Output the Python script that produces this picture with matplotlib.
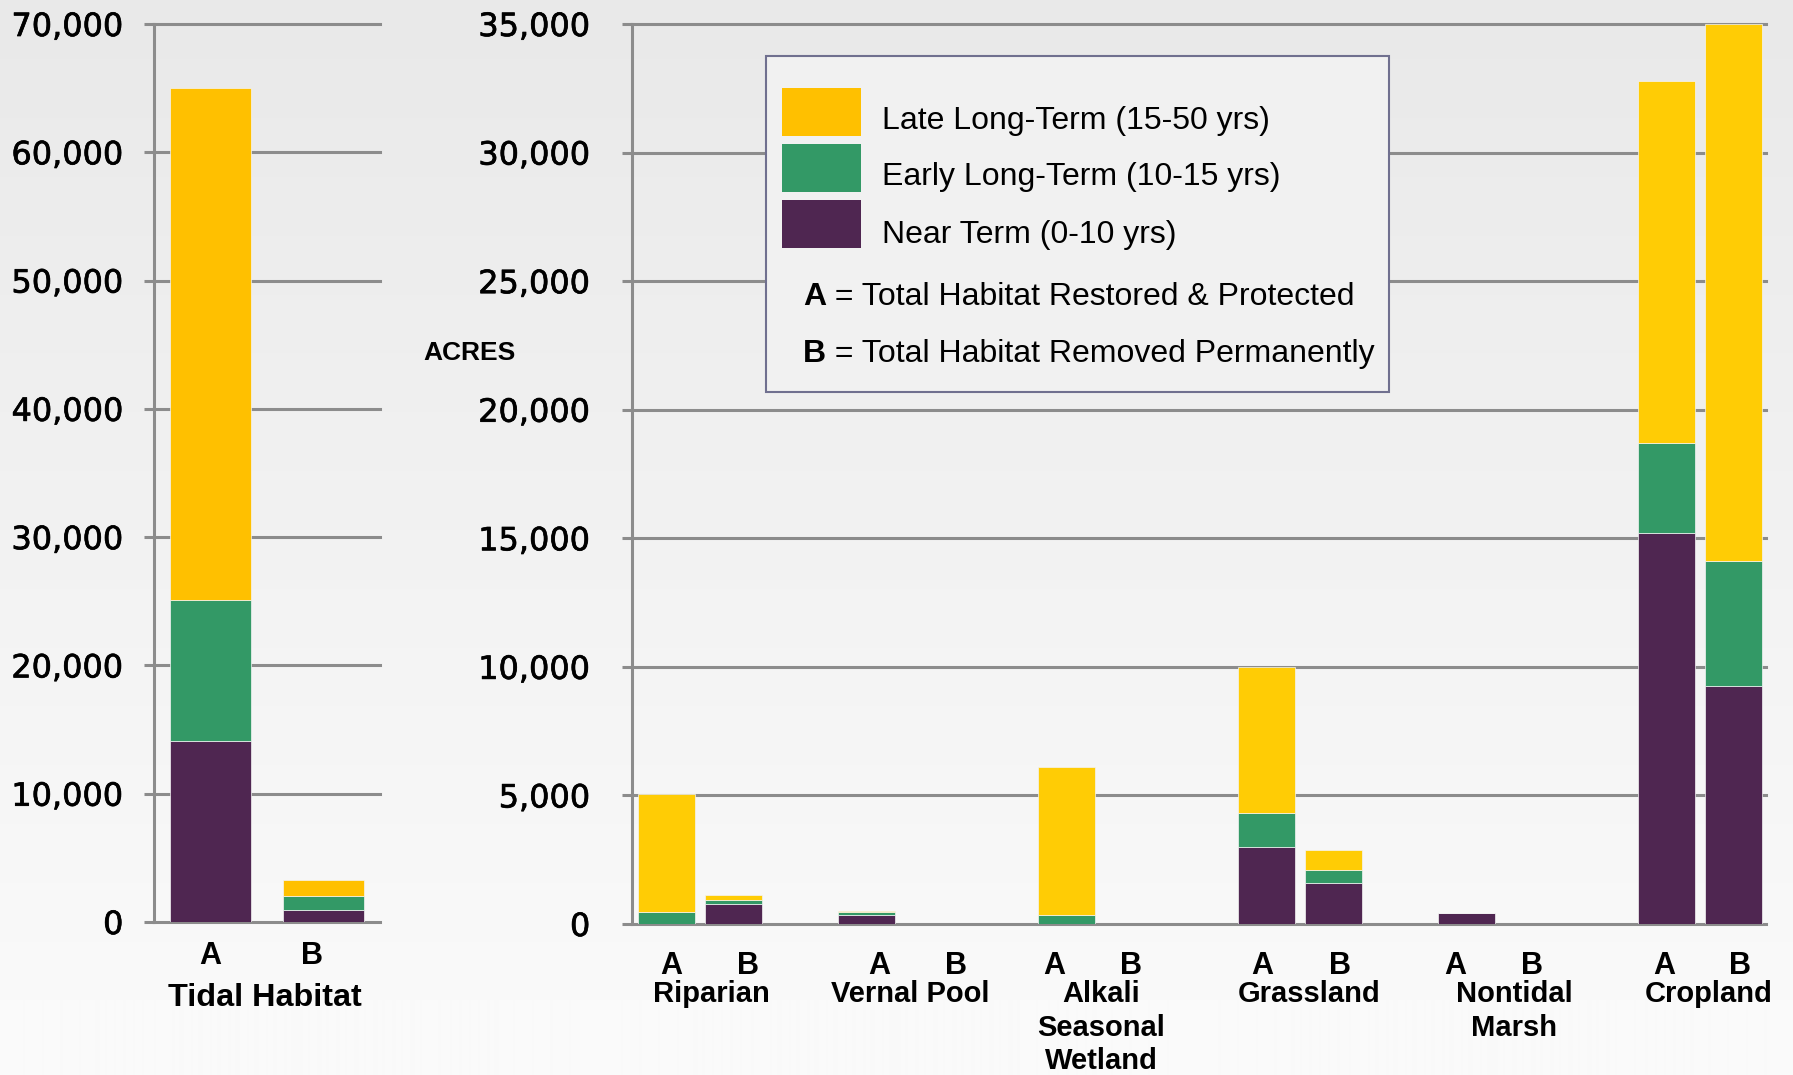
import numpy as np
import matplotlib.pyplot as plt
from matplotlib.patches import Rectangle
import matplotlib.transforms as mtransforms
import matplotlib.patheffects as pe

# ---- data (acres) ----
tidal_labels = ["A", "B"]
tidal_near = [14100, 900]
tidal_early = [11000, 1100]
tidal_late = [39900, 1300]

categories = ["Riparian", "Vernal Pool", "Alkali\nSeasonal\nWetland",
              "Grassland", "Nontidal\nMarsh", "Cropland"]
near_a = [0, 340, 0, 3000, 430, 15200]
early_a = [480, 130, 350, 1300, 0, 3500]
late_a = [4570, 50, 5750, 5700, 0, 14100]
near_b = [780, 0, 0, 1600, 0, 9250]
early_b = [150, 0, 0, 500, 0, 4870]
late_b = [200, 0, 0, 760, 0, 20880]

legend_labels = ["Late Long-Term (15-50 yrs)", "Early Long-Term (10-15 yrs)",
                 "Near Term (0-10 yrs)"]

YELLOW_L = "#FFC000"
YELLOW_R = "#FFCC05"
GREEN = "#339966"
PURPLE = "#4F2651"
GRID = "#8c8c8c"

W, H = 1793, 1075
fig = plt.figure(figsize=(W / 100, H / 100), dpi=100)


def fx(px):
    return px / W


def fy(py):
    return 1 - py / H


# background gradient
bg = fig.add_axes([0, 0, 1, 1], zorder=-10)
rows = np.arange(H)
shade = np.interp(rows, [0, 1000, H], [233, 250, 250])
img = np.repeat(np.repeat(shade[:, None, None], 3, axis=1), 3, axis=2) / 255
bg.imshow(img, aspect="auto", extent=[0, 1, 0, 1], interpolation="bilinear")
bg.set_axis_off()

ax1 = fig.add_axes([fx(154), fy(922), (380 - 154) / W, (922 - 24) / H])
ax2 = fig.add_axes([fx(632), fy(924), (1766 - 632) / W, (924 - 24) / H])


def style(ax, pad):
    ax.set_facecolor("none")
    for s in ["top", "right", "bottom"]:
        ax.spines[s].set_visible(False)
    ax.spines["left"].set_color(GRID)
    ax.spines["left"].set_linewidth(2.2)
    ax.set_axisbelow(True)
    ax.yaxis.grid(True, color=GRID, linewidth=2.2)
    for ln in ax.get_ygridlines():
        ln.set_clip_on(False)
    ax.tick_params(axis="y", length=7, width=2.2, color=GRID, labelsize=23,
                   pad=pad)
    ax.tick_params(axis="x", length=0, labelbottom=False)
    ax.yaxis.set_major_formatter(plt.FuncFormatter(lambda v, p: f"{int(v):,}"))
    for t in ax.get_yticklabels():
        t.set_fontfamily("DejaVu Sans")
        t.set_path_effects([pe.withStroke(linewidth=0.5, foreground="black")])


# ---- left: tidal habitat ----
tx = np.arange(len(tidal_labels))
tw = 0.71
b1 = np.array(tidal_near)
b2 = b1 + np.array(tidal_early)
ax1.bar(tx, tidal_near, tw, color=PURPLE, edgecolor="#f4f4f4", linewidth=0.5, zorder=3)
ax1.bar(tx, tidal_early, tw, bottom=b1, color=GREEN, edgecolor="#f4f4f4", linewidth=0.5, zorder=3)
ax1.bar(tx, tidal_late, tw, bottom=b2, color=YELLOW_L, edgecolor="#f4f4f4", linewidth=0.5, zorder=3)
ax1.set_xlim(-0.5, 1.5)
ax1.set_ylim(0, 70000)
ax1.set_yticks(range(0, 70001, 10000))
style(ax1, 15)

tr1 = mtransforms.blended_transform_factory(ax1.transData, ax1.transAxes)
for x, lab in zip([0, 0.9], tidal_labels):
    ax1.text(x, (922 - 963.5) / 898, lab, transform=tr1, ha="center",
             va="baseline", fontsize=22, fontweight="bold", family="Liberation Sans")
ax1.text(0.48, (922 - 1006.5) / 898, "Tidal Habitat", transform=tr1, ha="center",
         va="baseline", fontsize=23.3, fontweight="bold", family="Liberation Sans")

# ---- right: other habitats ----
gx = np.arange(len(categories))
off = 0.1675
bw = 0.285
xa = gx - off
xb = gx + off
na, ea, la = np.array(near_a), np.array(early_a), np.array(late_a)
nb, eb, lb = np.array(near_b), np.array(early_b), np.array(late_b)
kw = dict(edgecolor="#f4f4f4", linewidth=0.5, zorder=3)
for xs, n, e, l in [(xa, na, ea, la), (xb, nb, eb, lb)]:
    ax2.bar(xs, n, bw, color=PURPLE, **kw)
    ax2.bar(xs, e, bw, bottom=n, color=GREEN, **kw)
    ax2.bar(xs, l, bw, bottom=n + e, color=YELLOW_R, **kw)
ax2.set_xlim(-0.34, 5.33)
ax2.set_ylim(0, 35000)
ax2.set_yticks(range(0, 35001, 5000))
style(ax2, 23)

tr2 = mtransforms.blended_transform_factory(ax2.transData, ax2.transAxes)
ab_x = [-0.145, 0.24, 0.895, 1.28, 1.77, 2.155, 2.81, 3.2, 3.775, 4.16, 4.82, 5.2]
for i, x in enumerate(ab_x):
    ax2.text(x, (924 - 973.5) / 900, "AB"[i % 2], transform=tr2, ha="center",
             va="baseline", fontsize=22, fontweight="bold", family="Liberation Sans")
name_x = [0.055, 1.05, 2.005, 3.045, 4.07, 5.045]
for x, name in zip(name_x, categories):
    for k, line in enumerate(name.split("\n")):
        ax2.text(x, (924 - 1002 - 33.5 * k) / 900, line, transform=tr2, ha="center",
                 va="baseline", fontsize=21, fontweight="bold", family="Liberation Sans")

fig.text(fx(423), fy(360), "ACRES", ha="left", va="baseline", fontsize=19,
         fontweight="bold", family="Liberation Sans")

# ---- legend box ----
fig.patches.append(Rectangle((fx(766), fy(392)), (1389 - 766) / W, (392 - 56) / H,
                             transform=fig.transFigure, facecolor="#f1f1f1",
                             edgecolor="#70708f", linewidth=1.5, zorder=5))
sw_top = [88, 144, 200]
base = [129, 185, 243]
for c, top, bl, lab in zip([YELLOW_L, GREEN, PURPLE], sw_top, base, legend_labels):
    fig.patches.append(Rectangle((fx(782), fy(top + 48)), 79 / W, 48 / H,
                                 transform=fig.transFigure, facecolor=c,
                                 edgecolor="none", zorder=6))
    fig.text(fx(882), fy(bl), lab, ha="left", va="baseline", fontsize=23,
             family="Liberation Sans", zorder=6)
for bl, letter, desc in [(305, "A", " = Total Habitat Restored & Protected"),
                         (362, "B", " = Total Habitat Removed Permanently")]:
    fig.text(fx(803), fy(bl), letter, ha="left", va="baseline", fontsize=23,
             fontweight="bold", family="Liberation Sans", zorder=6)
    fig.text(fx(826), fy(bl), desc, ha="left", va="baseline", fontsize=23,
             family="Liberation Sans", zorder=6)

fig.savefig("out.png", dpi=100)
